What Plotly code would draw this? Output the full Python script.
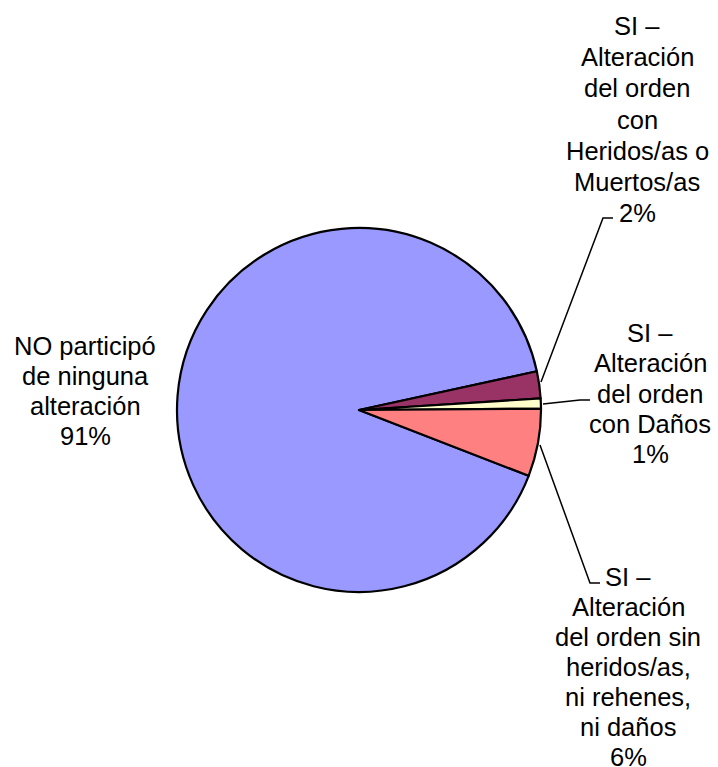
import plotly.graph_objects as go

W, H = 718, 767

label_lines = [
    ["NO participó", "de ninguna", "alteración"],
    ["SI –", "Alteración", "del orden", "con", "Heridos/as o", "Muertos/as"],
    ["SI –", "Alteración", "del orden", "con Daños"],
    ["SI –", "Alteración", "del orden sin", "heridos/as,", "ni rehenes,", "ni daños"],
]
values = [90.7, 2.4, 0.9, 6.0]
colors = ["#9999FF", "#993366", "#FFFFCC", "#FF8080"]

# label block: centre x, first line centre y (pixels from top), line step
label_pos = [(85, 346, 30.0), (637, 26, 31.2), (650, 333, 30.3), (628, 577, 30.0)]
# leader lines in pixels
leaders = [
    None,
    [(541, 382), (603, 218), (613, 218)],
    [(543, 404), (580, 400), (590, 400)],
    [(540, 445), (590, 583), (600, 583)],
]

cx, cy, r = 359, 410, 182


def px(x, y):
    return x / W, 1 - y / H


fig = go.Figure()
fig.add_trace(go.Pie(
    labels=[" ".join(l) for l in label_lines],
    values=values,
    sort=False,
    direction="clockwise",
    rotation=111.2,
    textinfo="none",
    hoverinfo="label+percent",
    marker=dict(colors=colors, line=dict(color="black", width=2.2)),
    domain=dict(x=[(cx - r) / W, (cx + r) / W], y=[1 - (cy + r) / H, 1 - (cy - r) / H]),
    showlegend=False,
))

total = sum(values)
font = dict(family="Liberation Sans, Arial, sans-serif", size=25.5, color="black")
for lines, v, (x, y0, step) in zip(label_lines, values, label_pos):
    pct = round(v / total * 100)
    all_lines = lines + [f"{pct}%"]
    for i, t in enumerate(all_lines):
        ax, ay = px(x, y0 + i * step)
        fig.add_annotation(
            x=ax, y=ay, xref="paper", yref="paper",
            text=t, showarrow=False,
            xanchor="center", yanchor="middle", align="center",
            font=font,
        )

for ld in leaders:
    if ld is None:
        continue
    pts = [px(x, y) for x, y in ld]
    path = "M " + " L ".join(f"{a},{b}" for a, b in pts)
    fig.add_shape(type="path", path=path, xref="paper", yref="paper",
                  line=dict(color="black", width=1.5))

fig.update_layout(
    width=W, height=H,
    margin=dict(l=0, r=0, t=0, b=0),
    paper_bgcolor="white", plot_bgcolor="white",
)

fig.write_html("out.html", config={"displayModeBar": False},
               post_script="document.body.style.margin='0';document.body.style.overflow='hidden';")
